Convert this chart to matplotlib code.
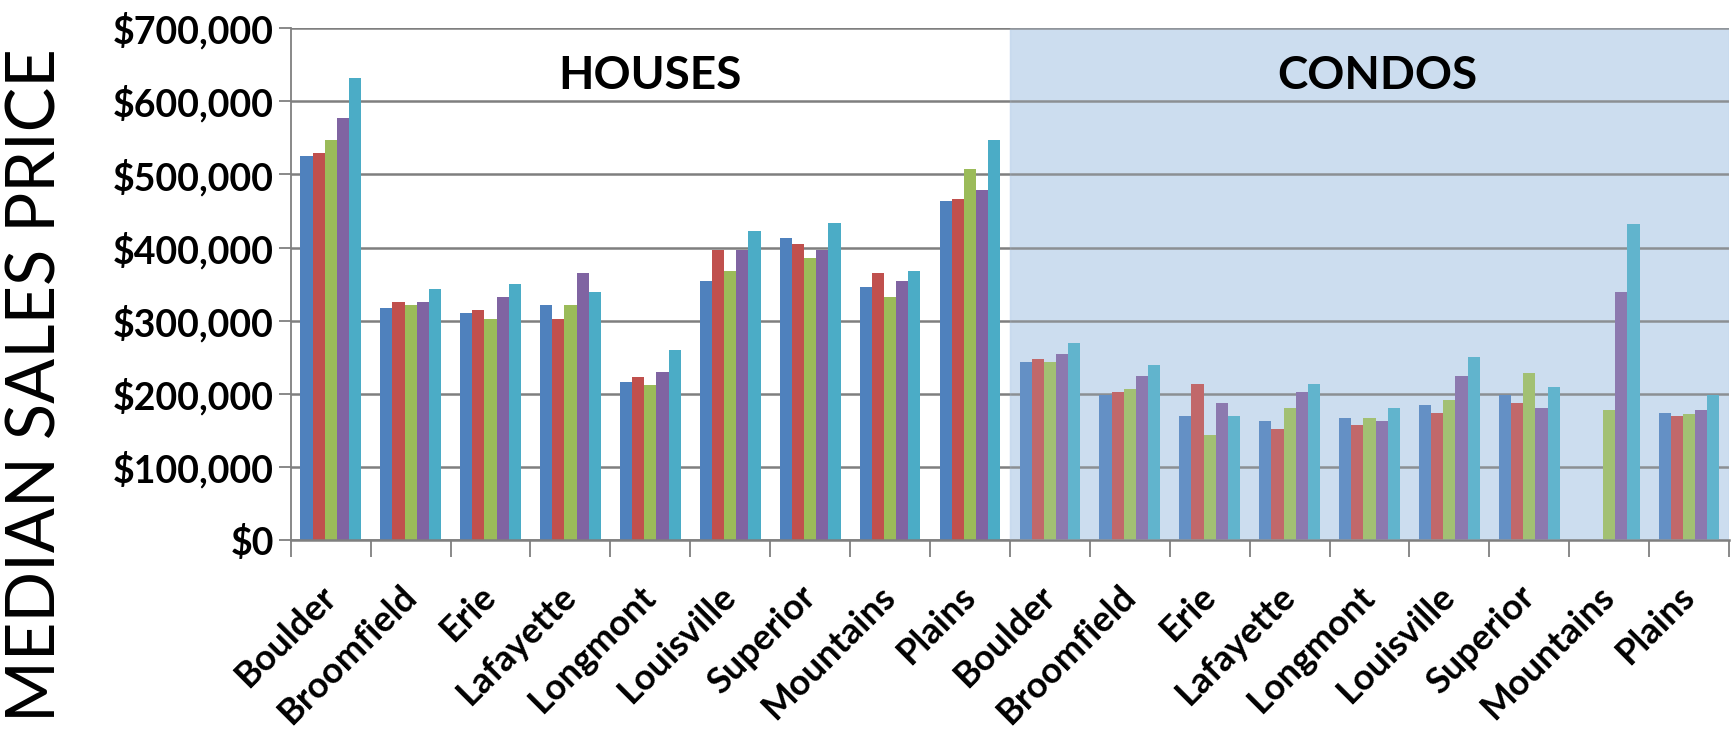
import numpy as np
import matplotlib.pyplot as plt

plt.rcParams['font.family'] = ['Lato', 'DejaVu Sans']

towns = ['Boulder', 'Broomfield', 'Erie', 'Lafayette', 'Longmont',
         'Louisville', 'Superior', 'Mountains', 'Plains']
categories = towns + towns

# five series per category: 9 house values, then 9 condo values
s1 = [525000, 318000, 310000, 322000, 216000, 354000, 413000, 346000, 463000,
      243000, 198000, 170000, 163000, 167000, 185000, 198000, 0, 174000]
s2 = [529000, 325000, 314000, 303000, 223000, 396000, 405000, 365000, 467000,
      247000, 203000, 214000, 152000, 158000, 174000, 188000, 0, 170000]
s3 = [547000, 322000, 303000, 322000, 212000, 368000, 386000, 332000, 508000,
      243000, 207000, 144000, 181000, 167000, 192000, 229000, 178000, 173000]
s4 = [577000, 325000, 332000, 365000, 230000, 396000, 396000, 354000, 478000,
      255000, 225000, 188000, 203000, 163000, 225000, 181000, 339000, 178000]
s5 = [632000, 343000, 350000, 339000, 260000, 423000, 434000, 368000, 547000,
      270000, 240000, 170000, 214000, 181000, 251000, 210000, 432000, 198000]
series = [s1, s2, s3, s4, s5]
colors = ['#4F81BD', '#C0504D', '#9BBB59', '#8064A2', '#4BACC6']
yticks = np.arange(0, 700001, 100000)

fig = plt.figure(figsize=(17.36, 7.38), dpi=100)
ax = fig.add_axes([0.1675, 0.268, 0.8285, 0.694])

x = np.arange(len(categories))
w = 0.152
for i, (vals, c) in enumerate(zip(series, colors)):
    ax.bar(x + (i - 2) * w, vals, width=w, color=c, zorder=2)

# condo shading behind, plus a faint veil over the condo bars
ax.axvspan(8.5, 17.5, color='#C6D9EE', alpha=0.85, zorder=1)
ax.axvspan(8.5, 17.5, color='#C6D9EE', alpha=0.18, zorder=3)

ax.set_xlim(-0.5, 17.5)
ax.set_ylim(0, 700000)
ax.set_yticks(yticks)
ax.set_yticklabels(['${:,.0f}'.format(v) for v in yticks],
                   fontsize=27, fontweight='bold')
ax.yaxis.grid(True, color='#7F7F7F', linewidth=1.8)
for l in ax.get_ygridlines():
    l.set_zorder(1.5)

ax.set_xticks(x)
ax.set_xticklabels(categories, rotation=45, ha='right', va='center',
                   rotation_mode='anchor', fontsize=26, fontweight='bold')
ax.tick_params(axis='x', which='major', length=0, pad=37)
ax.set_xticks(np.arange(-0.5, 17.6, 1), minor=True)
ax.tick_params(axis='x', which='minor', length=12, color='#7F7F7F', width=1.3)
ax.tick_params(axis='y', length=9, color='#7F7F7F', width=1.3, pad=3)

for side in ['top', 'right']:
    ax.spines[side].set_visible(False)
ax.spines['left'].set_color('#7F7F7F')
ax.spines['bottom'].set_color('#7F7F7F')
ax.spines['left'].set_linewidth(1.3)
ax.spines['bottom'].set_linewidth(1.8)

ax.text(4.0, 635000, 'HOUSES', ha='center', va='center', fontsize=33,
        fontweight='bold', zorder=5)
ax.text(13.1, 635000, 'CONDOS', ha='center', va='center', fontsize=33,
        fontweight='bold', zorder=5)

fig.text(0.021, 0.478, 'MEDIAN SALES PRICE', rotation=90, ha='center',
         va='center', fontsize=48)

fig.savefig('out.png', dpi=100)
